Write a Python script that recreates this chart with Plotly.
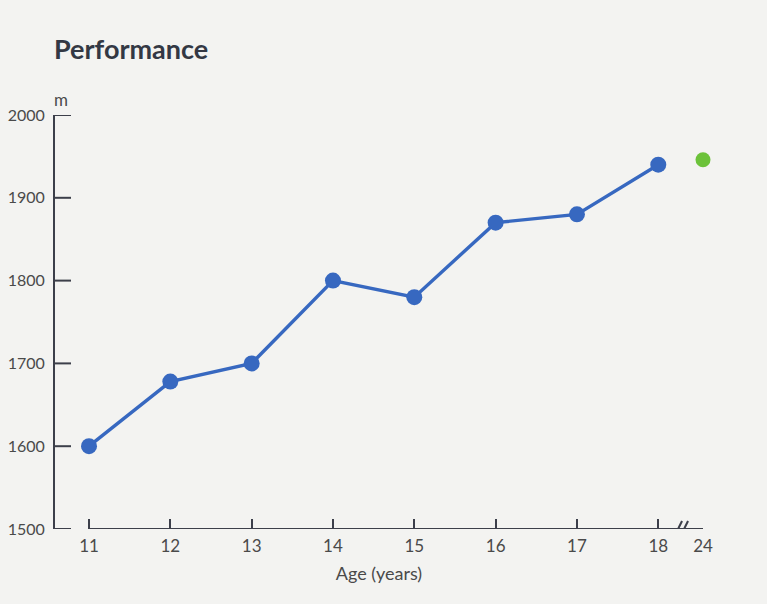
import plotly.graph_objects as go

ages = [11, 12, 13, 14, 15, 16, 17, 18]
distance_m = [1600, 1678, 1700, 1800, 1780, 1870, 1880, 1940]
adult_age = 24
adult_distance_m = 1946
y_ticks = [1500, 1600, 1700, 1800, 1900, 2000]

# positions on the broken axis: evenly spaced ages, then a short gap to age 24
pos = list(range(len(ages)))
adult_pos = pos[-1] + 0.55
break_pos = pos[-1] + 0.28
left_pad = -34 / 81.3  # gap between y axis and first age tick

blue = "#3768c0"
green = "#6cc23a"
axis_col = "#3c3f4a"
text_col = "#4a4a4a"
font = "Lato"

fig = go.Figure()
fig.add_trace(go.Scatter(
    x=pos, y=distance_m, mode="lines+markers",
    line=dict(color=blue, width=3.4),
    marker=dict(color=blue, size=16),
    cliponaxis=False, showlegend=False, hoverinfo="skip"))
fig.add_trace(go.Scatter(
    x=[adult_pos], y=[adult_distance_m], mode="markers",
    marker=dict(color=green, size=15),
    cliponaxis=False, showlegend=False, hoverinfo="skip"))

# y-axis tick marks pointing into the plot (drawn as pixel-sized shapes)
tick_shapes = [
    dict(type="line", xref="paper", yref="y", xsizemode="pixel", xanchor=0,
         x0=0, x1=16, y0=v, y1=v, line=dict(color=axis_col, width=2))
    for v in y_ticks
]

fig.update_layout(
    width=767, height=604,
    margin=dict(l=55, r=64, t=115, b=75),
    paper_bgcolor="#f3f3f1", plot_bgcolor="#f3f3f1",
    font=dict(family=font, color=text_col, size=17),
    xaxis=dict(
        range=[left_pad, adult_pos],
        tickvals=pos + [adult_pos], ticktext=[str(a) for a in ages] + [str(adult_age)],
        ticks="inside", ticklen=10, tickwidth=2, tickcolor=axis_col,
        ticklabelstandoff=5,
        showline=False, showgrid=False, zeroline=False,
        tickfont=dict(size=17, color=text_col),
        title=dict(text="Age (years)", font=dict(size=18, color=text_col), standoff=12),
    ),
    yaxis=dict(
        range=[1500, 2000],
        tickvals=y_ticks, ticks="", ticklabelstandoff=5,
        showline=True, linecolor=axis_col, linewidth=2,
        showgrid=False, zeroline=False, automargin=False,
        tickfont=dict(size=16, color=text_col),
    ),
    annotations=[
        dict(text="<b>Performance</b>", xref="paper", yref="paper", x=-0.005, y=1,
             yshift=67, xanchor="left", yanchor="middle", showarrow=False,
             font=dict(size=27, color="#333844", family=font)),
        dict(text="m", xref="paper", yref="paper", x=0, y=1, yshift=16, xshift=6,
             xanchor="center", yanchor="middle", showarrow=False,
             font=dict(size=17, color=text_col, family=font)),
    ],
    shapes=tick_shapes + [
        dict(type="line", xref="x", yref="y", x0=pos[0], x1=adult_pos, y0=1500, y1=1500,
             line=dict(color=axis_col, width=2)),
        dict(type="line", xref="x", yref="y", xsizemode="pixel", ysizemode="pixel",
             xanchor=break_pos, yanchor=1500, x0=-7, x1=1, y0=-8, y1=8,
             line=dict(color=axis_col, width=2)),
        dict(type="line", xref="x", yref="y", xsizemode="pixel", ysizemode="pixel",
             xanchor=break_pos, yanchor=1500, x0=-1, x1=7, y0=-8, y1=8,
             line=dict(color=axis_col, width=2)),
    ],
)

fig.write_html("out.html")
